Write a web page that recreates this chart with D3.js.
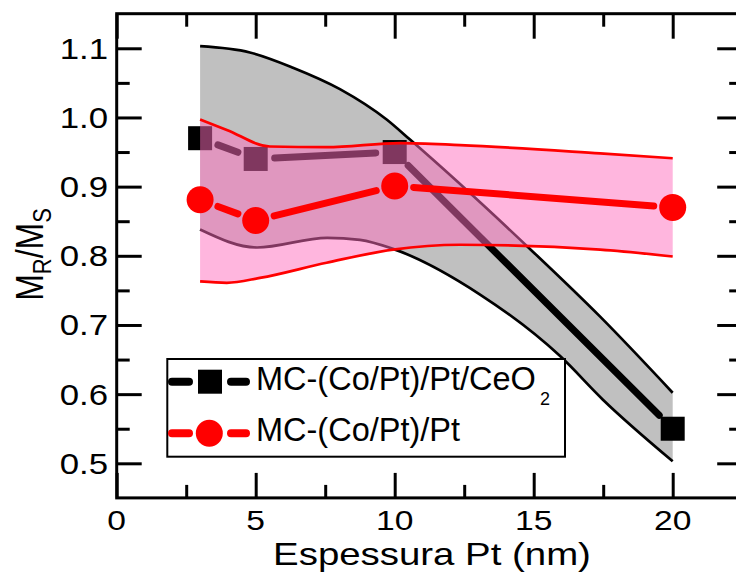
<!DOCTYPE html>
<html>
<head>
<meta charset="utf-8">
<script src="https://cdn.jsdelivr.net/npm/d3@7"></script>
<style>
  html, body { margin: 0; padding: 0; background: #fff; }
  svg { display: block; }
  text { font-family: "Liberation Sans", Arial, sans-serif; fill: #000; }
</style>
</head>
<body>
<svg id="chart" width="736" height="573"></svg>
<script>
// ---------------- DATA ----------------
const thickness = [3, 5, 10, 20];                 // Espessura Pt (nm)
const ceo2Values = [0.970, 0.940, 0.950, 0.550];  // MC-(Co/Pt)/Pt/CeO2
const ptValues   = [0.881, 0.851, 0.901, 0.870];  // MC-(Co/Pt)/Pt

// confidence band of the CeO2 series (gray)
const ceo2BandUpper = [[3,1.103],[4.79,1.094],[6.34,1.072],[8.03,1.041],[9.71,0.997],[10.55,0.968],[14.97,0.806],[17.39,0.712],[20,0.602]];
const ceo2BandLower = [[3,0.838],[5.05,0.812],[7.57,0.826],[8.75,0.823],[9.94,0.810],[13.07,0.744],[15.95,0.655],[17.49,0.592],[20,0.503]];
// confidence band of the Pt series (pink)
const ptBandUpper = [[3,0.997],[3.96,0.982],[5.51,0.958],[7.55,0.957],[10.19,0.963],[12.35,0.960],[17.39,0.948],[20,0.941]];
const ptBandLower = [[3,0.763],[3.96,0.761],[5.15,0.768],[7.55,0.790],[9.94,0.809],[12.35,0.816],[17.39,0.809],[20,0.799]];

const xMajorTicks = [0, 5, 10, 15, 20];
const xMinorTicks = [2.5, 7.5, 12.5, 17.5];
const yMajorTicks = [0.5, 0.6, 0.7, 0.8, 0.9, 1.0, 1.1];
const yMinorTicks = [0.55, 0.65, 0.75, 0.85, 0.95, 1.05];

const seriesNames = ["MC-(Co/Pt)/Pt/CeO", "MC-(Co/Pt)/Pt"];
const xTitle = "Espessura Pt (nm)";

// ---------------- LAYOUT ----------------
const svg = d3.select("#chart");
const x = d3.scaleLinear().domain([0, 22.5]).range([116.7, 742.2]);
const y = d3.scaleLinear().domain([0.45, 1.15]).range([497.9, 13.7]);
const X0 = x.range()[0], X1 = x.range()[1], Y0 = y.range()[0], Y1 = y.range()[1];
const sx = 1.2;

const line = d3.line().x(d => x(d[0])).y(d => y(d[1])).curve(d3.curveMonotoneX);
const plot = svg.append("g");

function drawBand(up, lo, fill, opacity) {
  const upD = line(up);
  const loD = line(lo.slice().reverse());
  const d = upD + "L" + loD.slice(1) + "Z";
  plot.append("path").attr("d", d).attr("fill", fill).attr("fill-opacity", opacity).attr("stroke", "none");
}

// CeO2 band
drawBand(ceo2BandUpper, ceo2BandLower, "#c0c0c0", 1);
[ceo2BandUpper, ceo2BandLower].forEach(b => {
  plot.append("path").attr("d", line(b)).attr("fill", "none").attr("stroke", "#000").attr("stroke-width", 2.7);
});

// data line with gaps around markers
function gappedSegments(xs, ys, gap) {
  const segs = [];
  for (let i = 0; i < xs.length - 1; i++) {
    const ax = x(xs[i]), ay = y(ys[i]), bx = x(xs[i+1]), by = y(ys[i+1]);
    const L = Math.hypot(bx - ax, by - ay), ux = (bx - ax) / L, uy = (by - ay) / L;
    segs.push([ax + ux * gap, ay + uy * gap, bx - ux * gap, by - uy * gap]);
  }
  return segs;
}
plot.selectAll(".blkseg").data(gappedSegments(thickness, ceo2Values, 19)).enter().append("line")
  .attr("x1", d => d[0]).attr("y1", d => d[1]).attr("x2", d => d[2]).attr("y2", d => d[3])
  .attr("stroke", "#000").attr("stroke-width", 7).attr("stroke-linecap", "round");
plot.selectAll(".sq").data(thickness).enter().append("rect")
  .attr("x", d => x(d) - 12).attr("y", (d, i) => y(ceo2Values[i]) - 12)
  .attr("width", 24).attr("height", 24).attr("fill", "#000");

// Pt band (translucent pink on top)
drawBand(ptBandUpper, ptBandLower, "rgb(255,110,190)", 0.5);
[ptBandUpper, ptBandLower].forEach(b => {
  plot.append("path").attr("d", line(b)).attr("fill", "none").attr("stroke", "#ff0000").attr("stroke-width", 2.7);
});

plot.selectAll(".redseg").data(gappedSegments(thickness, ptValues, 19)).enter().append("line")
  .attr("x1", d => d[0]).attr("y1", d => d[1]).attr("x2", d => d[2]).attr("y2", d => d[3])
  .attr("stroke", "#ff0000").attr("stroke-width", 7).attr("stroke-linecap", "round");
plot.selectAll(".circ").data(thickness).enter().append("circle")
  .attr("cx", d => x(d)).attr("cy", (d, i) => y(ptValues[i])).attr("r", 13.5).attr("fill", "#ff0000");

// ---------------- AXES ----------------
const ax = svg.append("g");
function tickAxis(gen, scale, major, minor, transform) {
  const gM = ax.append("g").attr("transform", transform)
    .call(gen(scale).tickValues(major).tickSize(25).tickFormat(""));
  const gm = ax.append("g").attr("transform", transform)
    .call(gen(scale).tickValues(minor).tickSize(13).tickFormat(""));
  [gM, gm].forEach(g => {
    g.select(".domain").remove();
    g.selectAll("line").attr("stroke", "#000").attr("stroke-width", 3);
  });
}
tickAxis(d3.axisTop, x, xMajorTicks, xMinorTicks, `translate(0,${Y0})`);
tickAxis(d3.axisBottom, x, xMajorTicks, xMinorTicks, `translate(0,${Y1})`);
tickAxis(d3.axisRight, y, yMajorTicks, yMinorTicks, `translate(${X0},0)`);
tickAxis(d3.axisLeft, y, yMajorTicks, yMinorTicks, `translate(${X1},0)`);

ax.append("rect").attr("x", X0).attr("y", Y1).attr("width", X1 - X0).attr("height", Y0 - Y1)
  .attr("fill", "none").attr("stroke", "#000").attr("stroke-width", 3);

ax.selectAll(".xl").data(xMajorTicks).enter().append("text")
  .attr("transform", d => `translate(${x(d)},530) scale(${sx},1)`)
  .attr("text-anchor", "middle").attr("font-size", 28).text(d => d);
ax.selectAll(".yl").data(yMajorTicks).enter().append("text")
  .attr("transform", d => `translate(108,${y(d) + 10.5}) scale(${sx},1)`)
  .attr("text-anchor", "end").attr("font-size", 29).text(d => d.toFixed(1));

svg.append("text").attr("transform", `translate(432,565) scale(${sx},1)`)
  .attr("text-anchor", "middle").attr("font-size", 32).text(xTitle);
const yt = svg.append("text").attr("transform", `translate(43,254.5) scale(${sx},1) rotate(-90)`)
  .attr("text-anchor", "middle").attr("font-size", 32);
yt.append("tspan").text("M");
yt.append("tspan").attr("font-size", 22).attr("dy", 7).text("R");
yt.append("tspan").attr("dy", -7).text("/M");
yt.append("tspan").attr("font-size", 22).attr("dy", 7).text("S");

// ---------------- LEGEND ----------------
const lg = svg.append("g");
lg.append("rect").attr("x", 167.3).attr("y", 359).attr("width", 565 - 167.3).attr("height", 456.7 - 359)
  .attr("fill", "#fff").attr("stroke", "#000").attr("stroke-width", 2);
const rows = [
  { cy: 381.7, color: "#000", shape: "square", base: 389.5 },
  { cy: 433.3, color: "#ff0000", shape: "circle", base: 441 }
];
rows.forEach((r, i) => {
  [[172, 189], [231, 246]].forEach(s => {
    lg.append("line").attr("x1", s[0]).attr("x2", s[1]).attr("y1", r.cy).attr("y2", r.cy)
      .attr("stroke", r.color).attr("stroke-width", 8).attr("stroke-linecap", "round");
  });
  if (r.shape === "square") {
    lg.append("rect").attr("x", 198).attr("y", r.cy - 12).attr("width", 24).attr("height", 24).attr("fill", r.color);
  } else {
    lg.append("circle").attr("cx", 209.3).attr("cy", r.cy).attr("r", 13.5).attr("fill", r.color);
  }
  const t = lg.append("text").attr("x", 256).attr("y", r.base).attr("font-size", 32.5);
  t.append("tspan").text(seriesNames[i]);
  if (i === 0) t.append("tspan").attr("font-size", 18).attr("dx", 4).attr("dy", 15).text("2");
});
</script>
</body>
</html>
